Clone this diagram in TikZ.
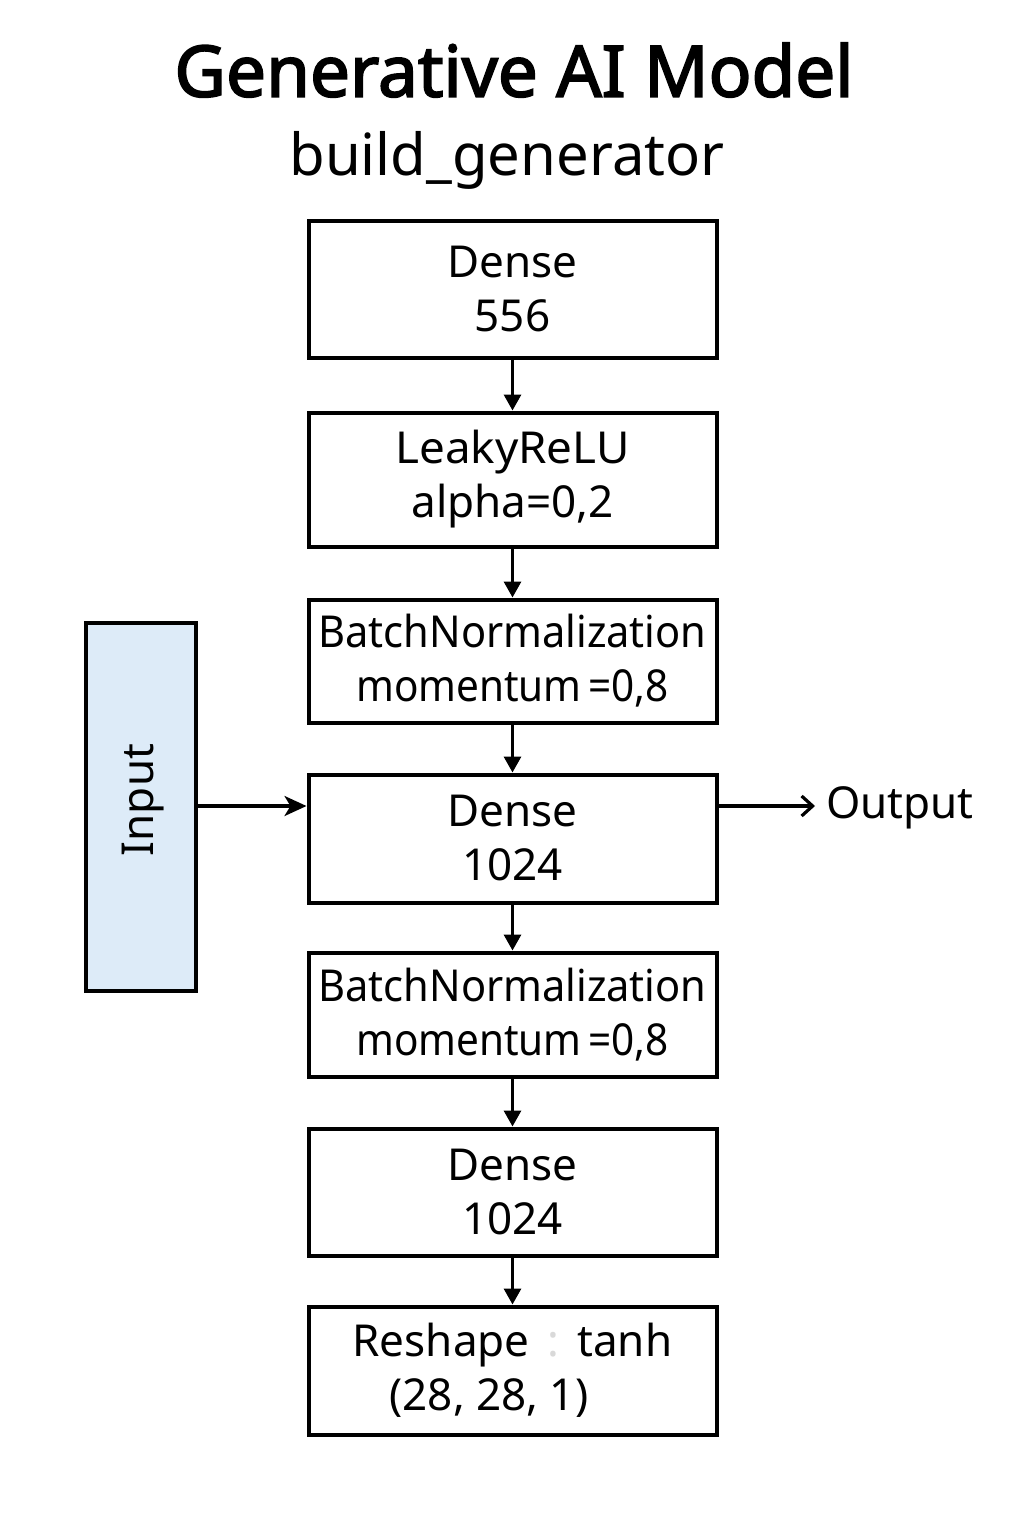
\documentclass[tikz,border=0pt]{standalone}
\usepackage{fontspec}
\setmainfont{Noto Sans}
\newfontfamily\titlefont{Noto Sans}[FakeBold=2.5]
\usetikzlibrary{arrows.meta}
\begin{document}
\begin{tikzpicture}[x=1pt,y=-1pt,
  layer/.style={draw=black, line width=4pt, minimum width=408pt, inner sep=0pt, align=center,
    font=\fontsize{44}{54}\selectfont},
  flow/.style={line width=3.2pt, -{Triangle[length=16pt,width=17pt]}},
  side/.style={line width=3.2pt, -{Stealth[length=22pt,width=20pt,inset=6pt]}},
  outarr/.style={line width=3.2pt, -{Straight Barb[length=11pt,width=20pt,line width=3.2pt]}}]
\useasboundingbox (0,0) rectangle (1024,1536);
\fill[white] (0,0) rectangle (1024,1536);
\node[font=\fontsize{71}{78}\titlefont] (title) at (514,70) {Generative AI Model};
\node[font=\fontsize{58}{66}\selectfont] (sub) at (507,160) {build\_generator};
\node[layer, minimum height=137pt] (b1) at (512.5,289) {Dense\\556};
\node[layer, minimum height=134pt] (b2) at (512.5,479.5) {\scalebox{1.04}[1]{LeakyReLU}\\alpha=0,2};
\node[layer, minimum height=123pt] (b3) at (512.5,661) {\scalebox{0.945}[1]{BatchNormalization}\\\scalebox{0.92}[1]{momentum\,=0,8}};
\node[layer, minimum height=128pt] (b4) at (512.5,838.5) {Dense\\1024};
\node[layer, minimum height=124pt] (b5) at (512.5,1014.5) {\scalebox{0.945}[1]{BatchNormalization}\\\scalebox{0.92}[1]{momentum\,=0,8}};
\node[layer, minimum height=127pt] (b6) at (512.5,1192) {Dense\\1024};
\node[layer, minimum height=128pt, align=left] (b7) at (512.5,1370.5) {Reshape\hspace{18pt}{\color{black!15}:}\hspace{18pt}tanh\\\hspace*{37pt}(28, 28, 1)};
\node[draw=black, line width=4pt, fill={rgb,255:red,221;green,235;blue,248},
  minimum width=110pt, minimum height=368pt, inner sep=0pt] (in) at (140.5,806.5) {};
\node[rotate=90, font=\fontsize{44}{54}\selectfont] (intext) at (143,800) {Input};
\node[anchor=west, font=\fontsize{44}{54}\selectfont, inner sep=0pt] (out) at (826,808) {Output};
\coordinate (outend) at (815,806);
\draw[flow] (b1) -- (b2);
\draw[flow] (b2) -- (b3);
\draw[flow] (b3) -- (b4);
\draw[flow] (b4) -- (b5);
\draw[flow] (b5) -- (b6);
\draw[flow] (b6) -- (b7);
\draw[side] (in.east |- 0,806) -- (b4.west |- 0,806) ;
\draw[outarr] (b4.east |- 0,806) -- (outend);
\end{tikzpicture}
\end{document}
